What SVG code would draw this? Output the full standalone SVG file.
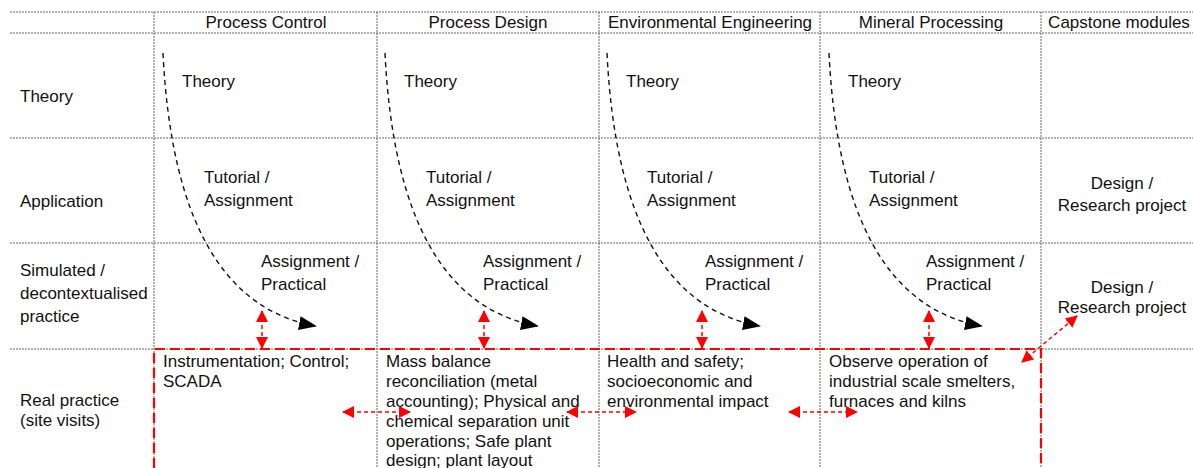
<svg xmlns="http://www.w3.org/2000/svg" width="1193" height="468" viewBox="0 0 1193 468">
<style>
text{font-family:"Liberation Sans",Arial,sans-serif;font-size:17px;fill:#111}
.c{text-anchor:middle}
.grid{stroke:#666;stroke-width:1;stroke-dasharray:2,1;fill:none}
.flow{stroke:#111;stroke-width:1.4;stroke-dasharray:5,4;fill:none;marker-end:url(#bh)}
.red{stroke:#ff0000;stroke-width:1.5;stroke-dasharray:4,3;fill:none;marker-start:url(#rs);marker-end:url(#re)}
.box{stroke:#ff0000;stroke-width:2.2;stroke-dasharray:10,5;fill:none}
</style>
<defs>
<marker id="bh" markerWidth="18" markerHeight="14" refX="16" refY="7" orient="auto" markerUnits="userSpaceOnUse"><path d="M0,0 L18,7 L0,14 z" fill="#000"/></marker>
<marker id="re" markerWidth="12" markerHeight="12" refX="11" refY="6" orient="auto" markerUnits="userSpaceOnUse"><path d="M0,0 L12,6 L0,12 z" fill="#ff0000"/></marker>
<marker id="rs" markerWidth="12" markerHeight="12" refX="1" refY="6" orient="auto" markerUnits="userSpaceOnUse"><path d="M12,0 L0,6 L12,12 z" fill="#ff0000"/></marker>
</defs>
<g id="grid">
<path class="grid" d="M10,12H1193 M10,33H1193 M10,138H1193 M10,243H1193 M10,349H1193"/>
<path class="grid" d="M154,12V468 M377,12V468 M599,12V468 M820,12V468 M1041,12V468"/>
</g>
<g id="headers">
<text class="c" x="266" y="28">Process Control</text>
<text class="c" x="488" y="28">Process Design</text>
<text class="c" x="710" y="28">Environmental Engineering</text>
<text class="c" x="931" y="28">Mineral Processing</text>
<text class="c" x="1119" y="28">Capstone modules</text>
</g>
<g id="rows">
<text x="20" y="102">Theory</text>
<text x="20" y="207">Application</text>
<text x="20" y="276">Simulated /</text>
<text x="20" y="299">decontextualised</text>
<text x="20" y="322">practice</text>
<text x="20" y="406">Real practice</text>
<text x="20" y="426">(site visits)</text>
</g>
<g id="col1">
<text x="182" y="87">Theory</text>
<text x="204" y="183">Tutorial /</text>
<text x="204" y="206">Assignment</text>
<text x="261" y="267">Assignment /</text>
<text x="261" y="290">Practical</text>
<text x="163" y="367">Instrumentation; Control;</text>
<text x="163" y="387">SCADA</text>
</g>
<g id="col2">
<text x="404" y="87">Theory</text>
<text x="426" y="183">Tutorial /</text>
<text x="426" y="206">Assignment</text>
<text x="483" y="267">Assignment /</text>
<text x="483" y="290">Practical</text>
<text x="386" y="367">Mass balance</text>
<text x="386" y="387">reconciliation (metal</text>
<text x="386" y="407">accounting); Physical and</text>
<text x="386" y="427">chemical separation unit</text>
<text x="386" y="447">operations; Safe plant</text>
<text x="386" y="466">design; plant layout</text>
</g>
<g id="col3">
<text x="626" y="87">Theory</text>
<text x="647" y="183">Tutorial /</text>
<text x="647" y="206">Assignment</text>
<text x="705" y="267">Assignment /</text>
<text x="705" y="290">Practical</text>
<text x="607" y="367">Health and safety;</text>
<text x="607" y="387">socioeconomic and</text>
<text x="607" y="407">environmental impact</text>
</g>
<g id="col4">
<text x="848" y="87">Theory</text>
<text x="869" y="183">Tutorial /</text>
<text x="869" y="206">Assignment</text>
<text x="926" y="267">Assignment /</text>
<text x="926" y="290">Practical</text>
<text x="829" y="367">Observe operation of</text>
<text x="829" y="387">industrial scale smelters,</text>
<text x="829" y="407">furnaces and kilns</text>
</g>
<g id="capstone">
<text class="c" x="1122" y="189">Design /</text>
<text class="c" x="1122" y="211">Research project</text>
<text class="c" x="1122" y="293">Design /</text>
<text class="c" x="1122" y="313">Research project</text>
</g>
<g id="connectors">
<path class="flow" d="M163,53 Q175,300 315,326"/>
<path class="flow" d="M385,53 Q397,300 537,326"/>
<path class="flow" d="M607,53 Q619,300 759,326"/>
<path class="flow" d="M829,53 Q841,300 981,326"/>
<path class="box" d="M154,468V349H1041V468"/>
<path class="red" d="M262,311V348"/>
<path class="red" d="M484,311V348"/>
<path class="red" d="M702,311V348"/>
<path class="red" d="M929,311V348"/>
<path class="red" d="M343,412H410"/>
<path class="red" d="M567,412H636"/>
<path class="red" d="M789,412H857"/>
<path class="red" d="M1022,362L1077,316"/>
</g>
</svg>
